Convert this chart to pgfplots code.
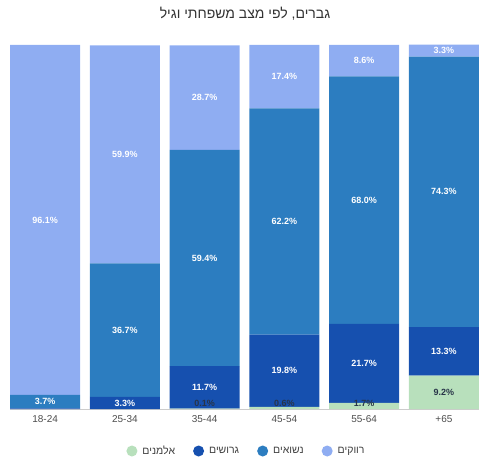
\documentclass[border=0pt]{standalone}
\usepackage{fontspec}
\setmainfont{Liberation Sans}
\newfontfamily\heb[Script=Hebrew]{Liberation Sans}
\TeXXeTstate=1
\usepackage{pgfplots}
\pgfplotsset{compat=1.18}
\definecolor{cSingle}{RGB}{143,173,242}
\definecolor{cMarried}{RGB}{44,125,192}
\definecolor{cDivorced}{RGB}{22,80,175}
\definecolor{cWidowed}{RGB}{184,224,188}
\definecolor{cDark}{RGB}{40,52,72}
\begin{document}
\begin{tikzpicture}
\useasboundingbox (0,0) rectangle (490pt,456pt);
\begin{axis}[
  at={(10pt,47pt)}, anchor=south west,
  scale only axis, width=469pt, height=364pt,
  xmin=-0.44, xmax=5.44, ymin=0, ymax=100,
  ybar stacked, bar width=70pt,
  axis x line*=bottom, axis y line=none,
  x axis line style={black!20, -},
  xtick={0,1,2,3,4,5},
  xticklabels={18-24,25-34,35-44,45-54,55-64,+65},
  major tick length=0pt,
  xticklabel style={font=\fontsize{10}{12}\selectfont, text=black!70, yshift=-3pt},
  legend style={at={(0.5,0)}, anchor=center, xshift=2pt, yshift=-42pt, draw=none,
    font=\fontsize{10.5}{12}\selectfont, text=black!75,
    /tikz/every odd column/.append style={column sep=3pt},
    /tikz/every even column/.append style={column sep=16pt}},
  legend columns=4,
  legend image code/.code={\fill[#1,draw=none] (4pt,0pt) circle (5.5pt);},
]
\addplot[fill=cWidowed, draw=none] coordinates {(0,0) (1,0) (2,0.1) (3,0.6) (4,1.7) (5,9.2)};
\addlegendentry{\heb\beginR אלמנים\endR}
\addplot[fill=cDivorced, draw=none] coordinates {(0,0.2) (1,3.3) (2,11.7) (3,19.8) (4,21.7) (5,13.3)};
\addlegendentry{\heb\beginR גרושים\endR}
\addplot[fill=cMarried, draw=none] coordinates {(0,3.7) (1,36.7) (2,59.4) (3,62.2) (4,68.0) (5,74.3)};
\addlegendentry{\heb\beginR נשואים\endR}
\addplot[fill=cSingle, draw=none] coordinates {(0,96.1) (1,59.9) (2,28.7) (3,17.4) (4,8.6) (5,3.3)};
\addlegendentry{\heb\beginR רווקים\endR}
\end{axis}
\begin{axis}[
  at={(10pt,47pt)}, anchor=south west,
  scale only axis, width=469pt, height=364pt,
  xmin=-0.44, xmax=5.44, ymin=0, ymax=100,
  hide axis, clip=false,
  /pgf/number format/assume math mode=true,
  nodes near coords={\pgfmathprintnumber[fixed,fixed zerofill,precision=1,assume math mode=true]{\pgfplotspointmeta}\%},
  nodes near coords align={center},
]
\addplot[draw=none, mark=none, point meta=explicit,
  every node near coord/.append style={font=\bfseries\fontsize{9}{10}\selectfont, text=white}]
  table[meta=v] {
x y v
0 2.1 3.7
0 51.95 96.1
1 1.6 3.3
1 21.65 36.7
1 69.95 59.9
2 5.95 11.7
2 41.5 59.4
2 85.55 28.7
3 10.5 19.8
3 51.5 62.2
3 91.3 17.4
4 12.55 21.7
4 57.4 68.0
4 95.7 8.6
5 15.85 13.3
5 59.65 74.3
5 98.45 3.3
};
\addplot[draw=none, mark=none, point meta=explicit,
  every node near coord/.append style={font=\bfseries\fontsize{9}{10}\selectfont, text=cDark}]
  table[meta=v] {
x y v
2 1.6 0.1
3 1.6 0.6
4 1.6 1.7
5 4.6 9.2
};
\end{axis}
\node[font=\fontsize{14}{16}\selectfont, text=black!80] at (245pt,442pt) {\heb\beginR גברים, לפי מצב משפחתי וגיל\endR};
\end{tikzpicture}
\end{document}
